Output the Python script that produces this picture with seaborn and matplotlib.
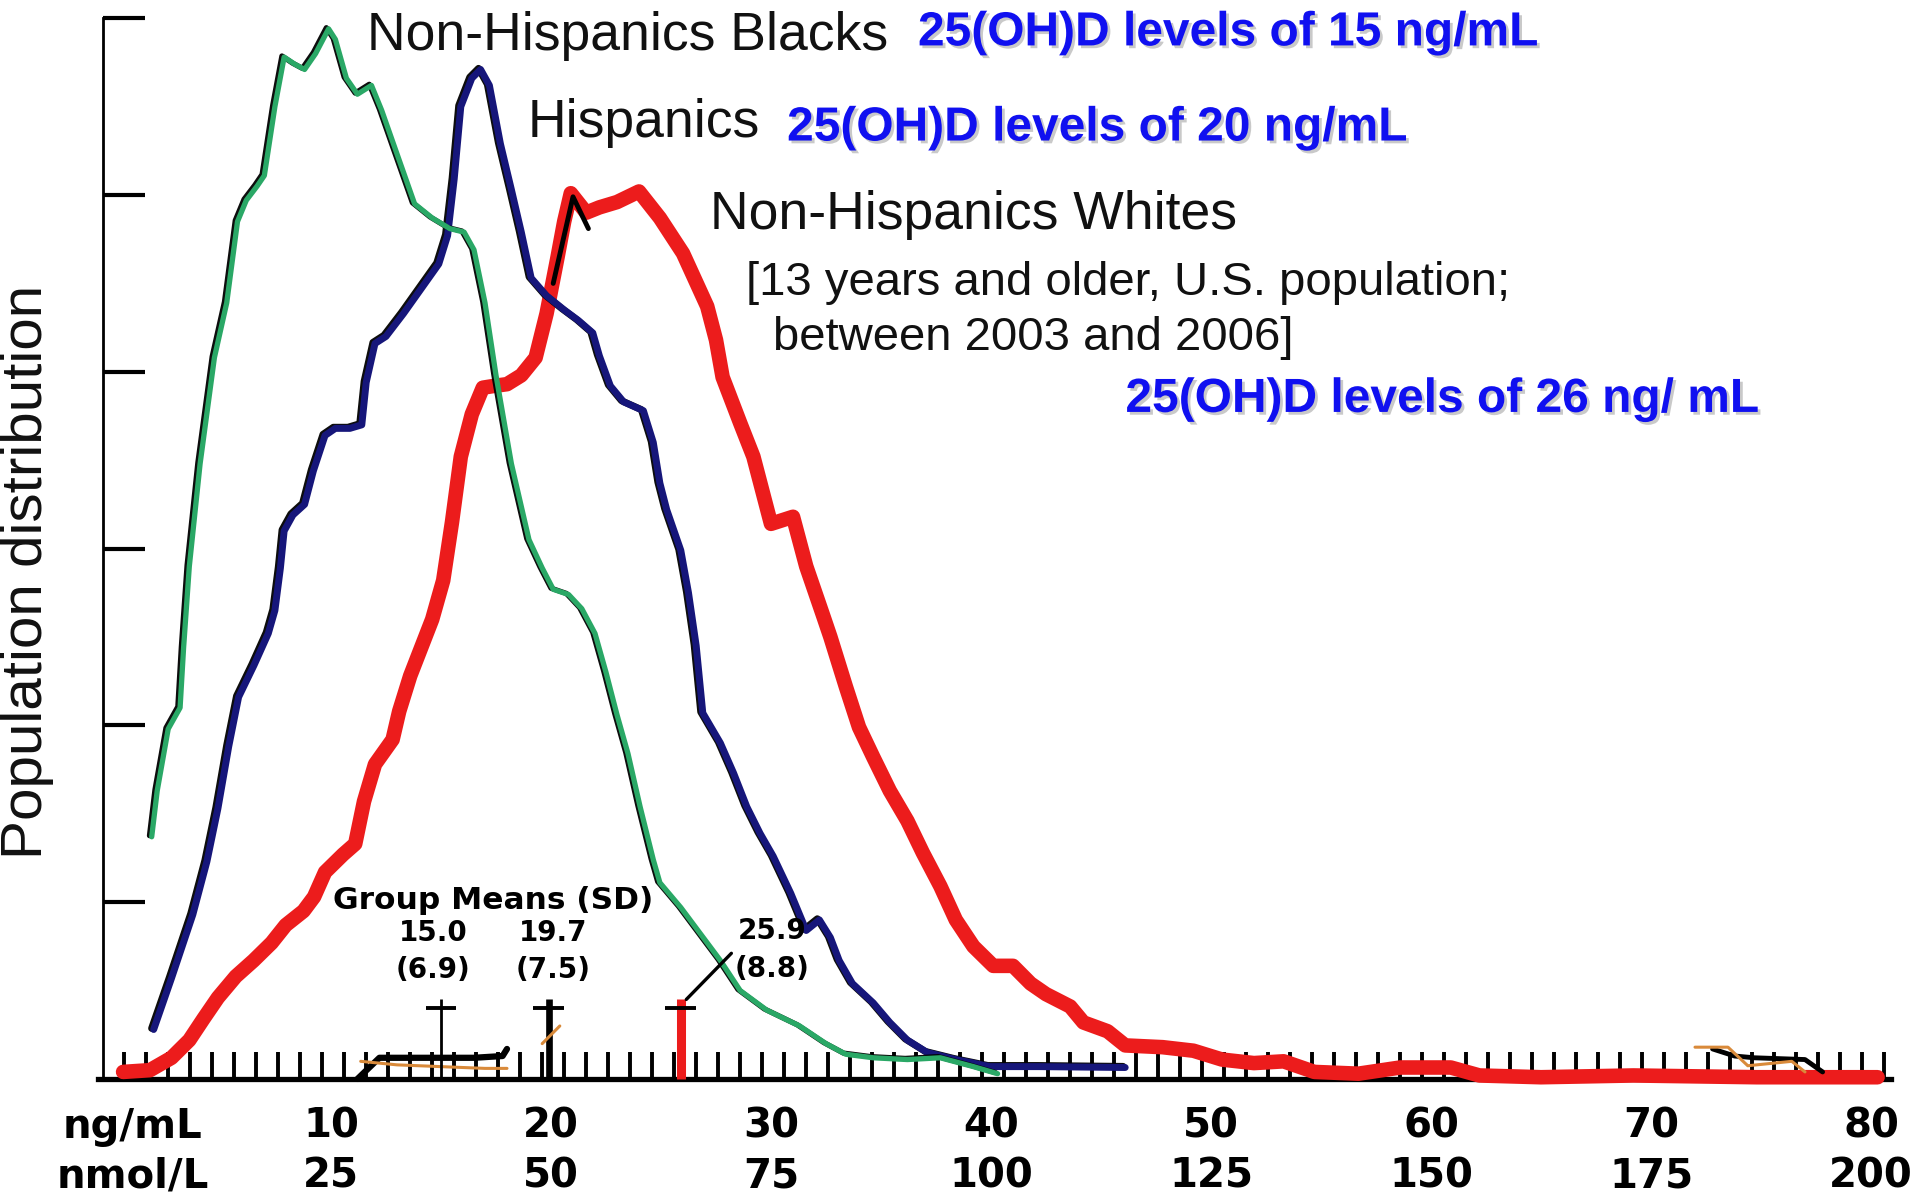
import numpy as np
import pandas as pd
import matplotlib
matplotlib.use("Agg")
import matplotlib.pyplot as plt
import matplotlib.patheffects as pe
import seaborn as sns

# ---------------- data ----------------
# x: 25(OH)D in ng/mL ; y: population distribution (in units of the y tick spacing)
blacks_ng = [1.85, 2.1, 2.6, 3.14, 3.3, 3.56, 4.05, 4.7, 5.26, 5.75, 6.15, 6.64, 6.97, 7.45, 7.87,
             8.35, 8.8, 9.3, 9.89, 10.2, 10.7, 11.2, 11.84, 12.3, 12.95, 13.8, 14.6, 15.4, 16.05,
             16.5, 17.0, 17.5, 18.2, 19.0, 19.6, 20.1, 20.8, 21.4, 22.0, 22.5, 23.0, 23.5, 24.05,
             24.65, 24.95, 25.9, 26.8, 27.7, 28.6, 29.8, 31.3, 32.5, 33.4, 34.65, 36.2, 37.7, 39.2, 40.3]
blacks_dist = [1.37, 1.63, 1.98, 2.10, 2.44, 2.90, 3.48, 4.08, 4.39, 4.85, 4.97, 5.05, 5.11, 5.50, 5.78,
               5.74, 5.71, 5.80, 5.94, 5.88, 5.66, 5.57, 5.62, 5.48, 5.25, 4.95, 4.87, 4.81, 4.79,
               4.69, 4.39, 3.98, 3.48, 3.05, 2.89, 2.77, 2.74, 2.66, 2.52, 2.30, 2.06, 1.84, 1.54,
               1.24, 1.11, 0.97, 0.82, 0.67, 0.50, 0.39, 0.30, 0.20, 0.14, 0.12, 0.11, 0.12, 0.07, 0.03]

hispanics_ng = [1.94, 2.75, 3.72, 4.36, 4.86, 5.35, 5.8, 6.5, 7.15, 7.45, 7.7, 7.87, 8.27, 8.8, 9.2,
                9.73, 10.2, 10.86, 11.4, 11.6, 12.0, 12.5, 13.3, 14.1, 14.9, 15.3, 15.6, 15.9, 16.4,
                16.8, 17.2, 17.7, 18.2, 18.65, 19.1, 19.8, 20.6, 21.25, 21.9, 22.2, 22.7, 23.3, 24.2,
                24.65, 24.95, 25.26, 25.9, 26.25, 26.6, 26.9, 27.7, 28.3, 28.9, 29.5, 30.1, 30.9, 31.6,
                32.2, 32.7, 33.1, 33.7, 34.65, 35.4, 36.2, 37.1, 38.4, 39.95, 42.2, 46.1]
hispanics_dist = [0.28, 0.57, 0.93, 1.23, 1.53, 1.88, 2.16, 2.34, 2.52, 2.65, 2.89, 3.10, 3.19, 3.25, 3.44,
                  3.64, 3.68, 3.68, 3.70, 3.94, 4.16, 4.20, 4.33, 4.47, 4.61, 4.77, 5.09, 5.50, 5.66,
                  5.71, 5.62, 5.29, 5.03, 4.79, 4.53, 4.43, 4.35, 4.29, 4.22, 4.09, 3.92, 3.83, 3.78,
                  3.60, 3.37, 3.22, 2.99, 2.75, 2.45, 2.07, 1.90, 1.73, 1.54, 1.39, 1.26, 1.05, 0.84,
                  0.90, 0.80, 0.67, 0.54, 0.43, 0.32, 0.22, 0.15, 0.11, 0.07, 0.07, 0.065]

whites_ng = [0.55, 1.77, 2.75, 3.56, 4.2, 4.86, 5.67, 6.48, 7.3, 7.94, 8.75, 9.23, 9.73, 10.55, 11.1,
             11.5, 12.0, 12.8, 13.1, 13.6, 14.1, 14.6, 15.1, 15.5, 15.9, 16.4, 16.9, 17.4, 18.0, 18.65,
             19.3, 19.8, 20.3, 20.6, 20.9, 21.6, 22.2, 23.0, 24.0, 24.95, 26.0, 27.1, 27.5, 27.8, 28.6,
             29.2, 30.0, 31.0, 31.6, 32.4, 32.7, 33.4, 34.0, 34.65, 35.4, 36.2, 36.9, 37.7, 38.4, 39.2,
             40.1, 41.0, 41.8, 42.5, 43.6, 44.2, 45.3, 46.1, 47.8, 49.2, 50.5, 51.95, 53.3, 54.7, 56.7,
             58.6, 60.9, 62.2, 65.0, 69.2, 74.8, 80.3]
whites_dist = [0.04, 0.05, 0.12, 0.22, 0.34, 0.46, 0.58, 0.67, 0.77, 0.87, 0.95, 1.03, 1.17, 1.27, 1.33,
               1.57, 1.78, 1.92, 2.08, 2.28, 2.44, 2.60, 2.82, 3.15, 3.52, 3.76, 3.91, 3.92, 3.93, 3.98,
               4.08, 4.33, 4.65, 4.85, 5.01, 4.90, 4.93, 4.96, 5.02, 4.87, 4.67, 4.37, 4.18, 3.97, 3.71,
               3.52, 3.14, 3.18, 2.90, 2.61, 2.50, 2.22, 1.99, 1.82, 1.63, 1.46, 1.28, 1.09, 0.90, 0.75,
               0.64, 0.64, 0.54, 0.48, 0.41, 0.32, 0.27, 0.19, 0.18, 0.16, 0.11, 0.09, 0.10, 0.04, 0.03,
               0.065, 0.065, 0.02, 0.01, 0.02, 0.01, 0.01]

# short black trace visible at the top of the white curve
whites_trace_ng = [20.1, 21.0, 21.7]
whites_trace_dist = [4.50, 4.99, 4.81]

# scan traces along the baseline
trace_black_a_ng = [11.2, 12.2, 13.5, 15.0, 16.5, 17.8, 18.0]
trace_black_a_dist = [0.0, 0.12, 0.12, 0.12, 0.12, 0.13, 0.17]
trace_orange_a_ng = [11.35, 13.0, 15.0, 17.0, 18.0]
trace_orange_a_dist = [0.10, 0.08, 0.07, 0.06, 0.06]
trace_orange_b_ng = [19.6, 20.4]
trace_orange_b_dist = [0.20, 0.30]
trace_black_c_ng = [72.8, 73.8, 74.7, 77.0, 77.8]
trace_black_c_dist = [0.17, 0.13, 0.12, 0.11, 0.04]
trace_orange_c_ng = [72.0, 73.5, 74.4, 76.4, 77.0]
trace_orange_c_dist = [0.18, 0.18, 0.075, 0.10, 0.04]

group_labels = ["Non-Hispanics Blacks", "Hispanics", "Non-Hispanics Whites"]
level_labels = ["25(OH)D levels of 15 ng/mL", "25(OH)D levels of 20 ng/mL", "25(OH)D levels of 26 ng/ mL"]
population_note = ["[13 years and older, U.S. population;", "between 2003 and 2006]"]

group_means = [15.0, 19.7, 25.9]
group_sds = [6.9, 7.5, 8.8]
group_mean_marker_pos = [15.0, 19.9, 25.9]

xtick_ng = [10, 20, 30, 40, 50, 60, 70, 80]
xtick_nmol = [25, 50, 75, 100, 125, 150, 175, 200]
ytick_levels = [1, 2, 3, 4, 5, 6]

# ---------------- style ----------------
GREEN = "#2aa866"
NAVY = "#16167a"
RED = "#ec1c1c"
BLUE_TXT = "#1010f0"
ORANGE = "#d98a3a"

sns.set_theme(style="white")
plt.rcParams["font.family"] = ["Liberation Sans", "DejaVu Sans"]
plt.rcParams["text.color"] = "black"
plt.rcParams["axes.labelcolor"] = "black"

fig = plt.figure(figsize=(19.2, 12.01), dpi=100)
ax = fig.add_axes([0, 0, 1, 1])
ax.set_facecolor("white")

common = dict(sort=False, estimator=None, ax=ax, legend=False)

# Non-Hispanic whites (red, bottom)
sns.lineplot(x=whites_ng, y=whites_dist, color=RED, lw=10.5, zorder=2.6,
             solid_joinstyle="round", solid_capstyle="round", **common)
sns.lineplot(x=whites_trace_ng, y=whites_trace_dist, color="black", lw=3.5, zorder=2.65,
             solid_joinstyle="round", **common)
# Hispanics (navy)
sns.lineplot(x=hispanics_ng, y=hispanics_dist, color=NAVY, lw=5.0, zorder=2.7,
             solid_joinstyle="round", solid_capstyle="round",
             path_effects=[pe.SimpleLineShadow(offset=(-1.5, 0.8), shadow_color="black", alpha=0.95),
                           pe.Normal()], **common)
# Non-Hispanic blacks (green, top)
sns.lineplot(x=blacks_ng, y=blacks_dist, color=GREEN, lw=3.8, zorder=2.8,
             solid_joinstyle="round", solid_capstyle="round",
             path_effects=[pe.SimpleLineShadow(offset=(-1.6, 0.8), shadow_color="black", alpha=0.95),
                           pe.Normal()], **common)

# scan traces
sns.lineplot(x=trace_black_a_ng, y=trace_black_a_dist, color="black", lw=4.5, zorder=2.55, **common)
sns.lineplot(x=trace_orange_a_ng, y=trace_orange_a_dist, color=ORANGE, lw=2.2, zorder=2.56, **common)
sns.lineplot(x=trace_black_c_ng, y=trace_black_c_dist, color="black", lw=3.5, zorder=2.62, **common)
sns.lineplot(x=trace_orange_c_ng, y=trace_orange_c_dist, color=ORANGE, lw=2.2, zorder=2.63, **common)

# group mean markers
mean_colors = ["black", "black", RED]
mean_widths = [2.0, 4.8, 6.5]
for pos, col, w in zip(group_mean_marker_pos, mean_colors, mean_widths):
    ax.vlines(pos, 0, 0.45, color=col, lw=w, zorder=2.9)
    ax.hlines(0.40, pos - 0.7, pos + 0.7, color="black", lw=2.8, zorder=2.95)
sns.lineplot(x=trace_orange_b_ng, y=trace_orange_b_dist, color=ORANGE, lw=2.2, zorder=2.96, **common)

bold_sans = ["DejaVu Sans"]
ax.text(17.35, 1.01, "Group Means (SD)", ha="center", va="center", fontsize=22.5,
        fontweight="heavy", family=bold_sans, color="black", zorder=4)
mean_label_pos = [(14.64, 0.72), (20.1, 0.72), (30.05, 0.73)]
for i, (m, s) in enumerate(zip(group_means, group_sds)):
    lx, ly = mean_label_pos[i]
    txt = f"{m:.1f}\n({s:.1f})"
    if i == 2:
        ax.annotate(txt, xy=(group_mean_marker_pos[i] + 0.25, 0.45), xytext=(lx, ly),
                    ha="center", va="center", fontsize=20, fontweight="bold", family=bold_sans,
                    color="black", linespacing=1.42, zorder=4,
                    arrowprops=dict(arrowstyle="-", color="black", lw=2.4, shrinkA=0, shrinkB=0,
                                    relpos=(0.0, 0.5)))
    else:
        ax.text(lx, ly, txt, ha="center", va="center", fontsize=20, fontweight="bold",
                family=bold_sans, color="black", linespacing=1.42, zorder=4)

# group names
name_pos = [(11.64, 5.82), (18.95, 5.33), (27.23, 4.81)]
for (tx, ty), lab in zip(name_pos, group_labels):
    ax.text(tx, ty, lab, ha="left", va="baseline", fontsize=38.5, color="#111111", zorder=4)

note_pos = [(28.86, 4.436), (30.09, 4.123)]
for (tx, ty), lab in zip(note_pos, population_note):
    ax.text(tx, ty, lab, ha="left", va="baseline", fontsize=34, color="#111111", zorder=4)

level_pos = [(36.68, 5.846), (30.73, 5.308), (46.11, 3.773)]
for (tx, ty), lab in zip(level_pos, level_labels):
    ax.text(tx, ty, lab, ha="left", va="baseline", fontsize=34.5, fontweight="bold",
            color=BLUE_TXT, zorder=4,
            path_effects=[pe.withSimplePatchShadow(offset=(2, -2), shadow_rgbFace="#888888", alpha=0.45)])

# ---------------- axes ----------------
ax.set_xlim(-111 / 22, (1920 - 111) / 22)
ax.set_ylim((1079 - 1201) / 176.8, 1079 / 176.8)

for s in ["top", "right"]:
    ax.spines[s].set_visible(False)
ax.spines["left"].set_position(("data", -0.36))
ax.spines["left"].set_bounds(0, 6)
ax.spines["left"].set_linewidth(2.0)
ax.spines["left"].set_color("black")
ax.spines["bottom"].set_position(("data", 0))
ax.spines["bottom"].set_bounds(-0.6, 80.9)
ax.spines["bottom"].set_linewidth(3.8)
ax.spines["bottom"].set_color("black")

ax.set_yticks(ytick_levels)
ax.tick_params(axis="y", which="major", left=True, direction="in", length=30, width=3,
               color="black", labelleft=False)

xt_pos = [1.0] + xtick_ng
xt_lab = ["ng/mL\nnmol/L"] + [f"{a}\n{b}" for a, b in zip(xtick_ng, xtick_nmol)]
ax.set_xticks(xt_pos, labels=xt_lab)
ax.set_xticks(np.arange(0.6, 81, 1.0), minor=True)
ax.tick_params(axis="x", which="major", bottom=True, length=0, pad=20, labelsize=29,
               labelcolor="black")
ax.tick_params(axis="x", which="minor", bottom=True, direction="in", length=19.5, width=2.8,
               color="black")
for lbl in ax.get_xticklabels():
    lbl.set_fontfamily(["DejaVu Sans"])
    lbl.set_fontweight("bold")
    lbl.set_linespacing(1.3)

ax.set_ylabel("Population distribution", fontsize=42, color="#111111")
ax.yaxis.set_label_coords(27 / 1920, 1 - 572 / 1201)
ax.yaxis.label.set_verticalalignment("center")
ax.set_xlabel("")
ax.grid(False)

fig.savefig("out.png", dpi=100, facecolor="white")
